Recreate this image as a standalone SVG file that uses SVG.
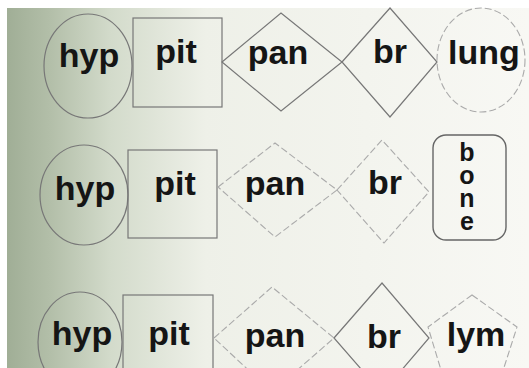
<svg xmlns="http://www.w3.org/2000/svg" width="529" height="368" viewBox="0 0 529 368">
<defs>
<linearGradient id="bg" x1="0" y1="0" x2="1" y2="0" gradientUnits="objectBoundingBox">
<stop offset="0" stop-color="#a0ae96"/>
<stop offset="0.08" stop-color="#b2bea8"/>
<stop offset="0.2" stop-color="#d3dbcb"/>
<stop offset="0.38" stop-color="#eef0e8"/>
<stop offset="1" stop-color="#f8f8f4"/>
</linearGradient>
<style>
.t{font-family:"Liberation Sans",Arial,sans-serif;font-weight:bold;font-size:34px;fill:#151515;text-anchor:middle}
.v{font-family:"Liberation Sans",Arial,sans-serif;font-weight:bold;font-size:25px;fill:#151515;text-anchor:middle;writing-mode:vertical-rl;text-orientation:upright;letter-spacing:-5px}
.s{fill:none;stroke:#777;stroke-width:1.2}
.d{fill:none;stroke:#aaa;stroke-width:1.1;stroke-dasharray:7 3}
.k{fill:none;stroke:#666;stroke-width:1.4}
</style>
</defs>
<rect x="0" y="0" width="529" height="368" fill="#ffffff"/>
<rect x="7" y="8" width="522" height="360" fill="url(#bg)"/>
<g id="connectors"></g>
<g id="row1">
<g id="hyp1"><ellipse class="s" cx="88" cy="66" rx="44" ry="52"/><text class="t" x="89" y="67">hyp</text></g>
<g id="pit1"><rect class="s" x="133" y="18" width="89" height="89"/><text class="t" x="176" y="63">pit</text></g>
<g id="pan1"><polygon class="s" points="222,62 281,13 342,62 281,111"/><text class="t" x="278" y="64">pan</text></g>
<g id="br1"><polygon class="s" points="342,62 390,8 437,62 390,117"/><text class="t" x="390" y="63">br</text></g>
<g id="lung1"><ellipse class="d" cx="481" cy="60" rx="44" ry="52"/><text class="t" x="484" y="64">lung</text></g>
</g>
<g id="row2">
<g id="hyp2"><ellipse class="s" cx="84" cy="195" rx="44" ry="50"/><text class="t" x="85" y="200">hyp</text></g>
<g id="pit2"><rect class="s" x="128" y="150" width="89" height="88"/><text class="t" x="175" y="195">pit</text></g>
<g id="pan2"><polygon class="d" points="218,187 275,143 337,190 275,237"/><text class="t" x="275" y="195">pan</text></g>
<g id="br2"><polygon class="d" points="337,190 382,140 429,192 384,243"/><text class="t" x="385" y="194">br</text></g>
<g id="bone2"><rect class="k" x="433" y="135" width="73" height="105" rx="13"/>
<text class="v" x="467" y="184">bone</text></g>
</g>
<g id="row3">
<g id="hyp3"><ellipse class="s" cx="80" cy="342" rx="42" ry="50"/><text class="t" x="82" y="345">hyp</text></g>
<g id="pit3"><rect class="s" x="123" y="295" width="90" height="90"/><text class="t" x="169" y="345">pit</text></g>
<g id="pan3"><polygon class="d" points="214,338 272,287 334,338 272,392"/><text class="t" x="275" y="347">pan</text></g>
<g id="br3"><polygon class="s" points="334,338 382,283 429,338 382,393"/><text class="t" x="384" y="348">br</text></g>
<g id="lym3"><polygon class="d" points="472,295 517,327 500,380 444,380 428,327"/><text class="t" x="476" y="346">lym</text></g>
</g>
</svg>
